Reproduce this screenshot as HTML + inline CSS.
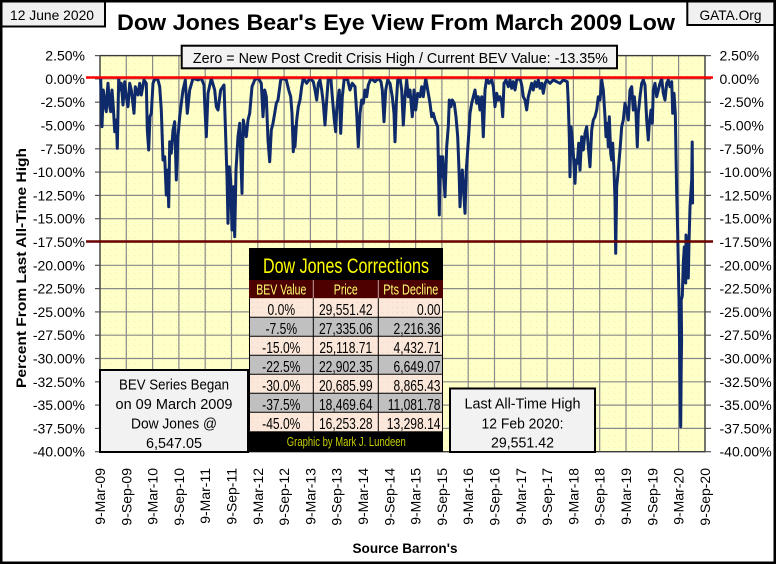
<!DOCTYPE html>
<html>
<head>
<meta charset="utf-8">
<style>
html,body{margin:0;padding:0;background:#fff;}
svg{display:block;}
.tk{font-family:"Liberation Sans",sans-serif;font-size:14px;fill:#000;}
.ls{font-family:"Liberation Sans",sans-serif;fill:#000;}
.tb{font-family:"Liberation Sans",sans-serif;font-size:15.5px;fill:#000;}
</style>
</head>
<body>
<svg width="776" height="564" viewBox="0 0 776 564" xmlns="http://www.w3.org/2000/svg">
<defs>
<pattern id="dots" width="6" height="6" patternUnits="userSpaceOnUse">
<rect width="6" height="6" fill="#FFFFC8"/>
<rect x="2" y="3" width="1" height="1" fill="#EFEFA8"/>
</pattern>
<pattern id="pdots" width="5" height="5" patternUnits="userSpaceOnUse">
<rect width="5" height="5" fill="#FCE8DA"/>
<rect x="2" y="2" width="1" height="1" fill="#F2D2C0"/>
</pattern>
</defs>
<rect x="0" y="0" width="776" height="564" fill="#fff"/>

<!-- plot area -->
<rect x="100" y="55.6" width="605" height="396.1" fill="url(#dots)"/>
<g stroke="#8A8A8A" stroke-width="1.2">
<line x1="100" y1="78.9" x2="705" y2="78.9"/>
<line x1="100" y1="102.2" x2="705" y2="102.2"/>
<line x1="100" y1="125.5" x2="705" y2="125.5"/>
<line x1="100" y1="148.8" x2="705" y2="148.8"/>
<line x1="100" y1="172.1" x2="705" y2="172.1"/>
<line x1="100" y1="195.4" x2="705" y2="195.4"/>
<line x1="100" y1="218.7" x2="705" y2="218.7"/>
<line x1="100" y1="242.0" x2="705" y2="242.0"/>
<line x1="100" y1="265.3" x2="705" y2="265.3"/>
<line x1="100" y1="288.6" x2="705" y2="288.6"/>
<line x1="100" y1="311.9" x2="705" y2="311.9"/>
<line x1="100" y1="335.2" x2="705" y2="335.2"/>
<line x1="100" y1="358.5" x2="705" y2="358.5"/>
<line x1="100" y1="381.8" x2="705" y2="381.8"/>
<line x1="100" y1="405.1" x2="705" y2="405.1"/>
<line x1="100" y1="428.4" x2="705" y2="428.4"/>
<line x1="126.3" y1="55.6" x2="126.3" y2="451.7"/>
<line x1="152.6" y1="55.6" x2="152.6" y2="451.7"/>
<line x1="178.9" y1="55.6" x2="178.9" y2="451.7"/>
<line x1="205.2" y1="55.6" x2="205.2" y2="451.7"/>
<line x1="231.5" y1="55.6" x2="231.5" y2="451.7"/>
<line x1="257.8" y1="55.6" x2="257.8" y2="451.7"/>
<line x1="284.1" y1="55.6" x2="284.1" y2="451.7"/>
<line x1="310.4" y1="55.6" x2="310.4" y2="451.7"/>
<line x1="336.7" y1="55.6" x2="336.7" y2="451.7"/>
<line x1="363.0" y1="55.6" x2="363.0" y2="451.7"/>
<line x1="389.3" y1="55.6" x2="389.3" y2="451.7"/>
<line x1="415.6" y1="55.6" x2="415.6" y2="451.7"/>
<line x1="441.9" y1="55.6" x2="441.9" y2="451.7"/>
<line x1="468.2" y1="55.6" x2="468.2" y2="451.7"/>
<line x1="494.5" y1="55.6" x2="494.5" y2="451.7"/>
<line x1="520.8" y1="55.6" x2="520.8" y2="451.7"/>
<line x1="547.1" y1="55.6" x2="547.1" y2="451.7"/>
<line x1="573.4" y1="55.6" x2="573.4" y2="451.7"/>
<line x1="599.7" y1="55.6" x2="599.7" y2="451.7"/>
<line x1="626.0" y1="55.6" x2="626.0" y2="451.7"/>
<line x1="652.3" y1="55.6" x2="652.3" y2="451.7"/>
<line x1="678.6" y1="55.6" x2="678.6" y2="451.7"/>
</g>
<rect x="100" y="55.6" width="605" height="396.1" fill="none" stroke="#3A3A3A" stroke-width="1.4"/>

<!-- ticks -->
<g stroke="#555" stroke-width="1.2">
<line x1="95" y1="55.6" x2="100" y2="55.6"/><line x1="705" y1="55.6" x2="711" y2="55.6"/>
<line x1="95" y1="78.9" x2="100" y2="78.9"/><line x1="705" y1="78.9" x2="711" y2="78.9"/>
<line x1="95" y1="102.2" x2="100" y2="102.2"/><line x1="705" y1="102.2" x2="711" y2="102.2"/>
<line x1="95" y1="125.5" x2="100" y2="125.5"/><line x1="705" y1="125.5" x2="711" y2="125.5"/>
<line x1="95" y1="148.8" x2="100" y2="148.8"/><line x1="705" y1="148.8" x2="711" y2="148.8"/>
<line x1="95" y1="172.1" x2="100" y2="172.1"/><line x1="705" y1="172.1" x2="711" y2="172.1"/>
<line x1="95" y1="195.4" x2="100" y2="195.4"/><line x1="705" y1="195.4" x2="711" y2="195.4"/>
<line x1="95" y1="218.7" x2="100" y2="218.7"/><line x1="705" y1="218.7" x2="711" y2="218.7"/>
<line x1="95" y1="242.0" x2="100" y2="242.0"/><line x1="705" y1="242.0" x2="711" y2="242.0"/>
<line x1="95" y1="265.3" x2="100" y2="265.3"/><line x1="705" y1="265.3" x2="711" y2="265.3"/>
<line x1="95" y1="288.6" x2="100" y2="288.6"/><line x1="705" y1="288.6" x2="711" y2="288.6"/>
<line x1="95" y1="311.9" x2="100" y2="311.9"/><line x1="705" y1="311.9" x2="711" y2="311.9"/>
<line x1="95" y1="335.2" x2="100" y2="335.2"/><line x1="705" y1="335.2" x2="711" y2="335.2"/>
<line x1="95" y1="358.5" x2="100" y2="358.5"/><line x1="705" y1="358.5" x2="711" y2="358.5"/>
<line x1="95" y1="381.8" x2="100" y2="381.8"/><line x1="705" y1="381.8" x2="711" y2="381.8"/>
<line x1="95" y1="405.1" x2="100" y2="405.1"/><line x1="705" y1="405.1" x2="711" y2="405.1"/>
<line x1="95" y1="428.4" x2="100" y2="428.4"/><line x1="705" y1="428.4" x2="711" y2="428.4"/>
<line x1="95" y1="451.7" x2="100" y2="451.7"/><line x1="705" y1="451.7" x2="711" y2="451.7"/>
</g>

<!-- series -->
<polyline fill="none" stroke="#0E2A6A" stroke-width="3" stroke-linejoin="round" stroke-linecap="round" points="
100.7,78.3 102,126.7 103.3,90 104.7,103.3 106.3,111.7 107,95 108,83.3 109.7,106.7 110.7,111.7 112,90 113.3,106.7 114.7,131.7 116.3,120 117.3,148.3 118.7,78.3 120,90 121.3,83.3 123,105 124.7,81.7 126,95 128,106.7 129.7,83.3 131.3,90 132.5,100 134,113.3 135.3,86.7 138,95 139.7,83.3 141.3,95 144,80 146.3,83.3 147.3,130 148.7,150 150,116.7 151.3,113.3 153,83.3 155.3,78.3 158,80 159.7,86.7 161.3,110 163,160 164.7,156.7 166.3,195 167.7,170 168.7,206.7 169.7,141.7 171.3,153.3 173,130 174.7,121.7 176.3,180 178,136.7 179.7,116.7 181.3,103.3 183,90 185.3,80 187.3,113.3 189.7,90 193,78.3 198,80 201.3,78.3 204,85 204.7,103.3 206.3,136.7 208,93.3 211.3,78.3 214.7,90 216.3,106.7 218,110 220.7,90 224,85 225.7,136.7 227,176.7 228,223.3 229.3,166.7 230.7,180 232,230 233.3,186.7 234.7,236.7 236,170 238,136.7 239.7,123.3 242,193.3 243.3,120 246.3,136.7 248,120 249.7,113.3 252,86.7 254.7,80 258,77.8 261.3,83.3 263,116.7 264.7,90 266.3,96.7 268,140 269.7,161.7 271.3,130 273,123.3 274.7,113.3 276.3,103.3 278,100 280.7,80 283,78.3 286.3,80 288.7,90 290.7,96.7 292,113.3 293.3,151.7 294.7,126.7 295,146.7 296.7,120
298.3,106.7 300,100 301.7,86.7 303.3,78.3 306.7,83.3 310,78.3 313.3,81.7 315,90 316.7,100 318.3,83.3 320,80 321.7,90 323.3,103.3 325,125 326.7,100 328.3,78.3 331,80 332.3,96.7 334.3,120 335.7,131.7 336.7,110 337.7,100 339.3,90 340.7,133.3 342.3,96.7 344.3,78.3 347.7,80 350,90 352.3,83.3 355,86.7 356.7,113.3 358.3,146.7 360,113.3 361.7,100 363.3,103.3 365,90 366.7,96.7 368.3,85 371,78.3 375,81.7 378.3,78.3 381,81.7 382.3,90 384,121.7 385.7,90 387.7,80 390,83.3 392.3,96.7 394,113.3 395,141.7 396.3,103.3 397.7,80 400,78.3 401.7,90 403.3,125 405,96.7 406.7,80 408.3,96.7 410,90 412.3,116.7 414,90 415.7,110 417.7,93.3 420,96.7 421.7,86.7 423.3,96.7 425.7,78.3 427.7,90 430,103.3 431.7,116.7 433.3,113.3 435,120 437.7,126.7 439.3,215 440.3,156.7 441.7,176.7 442.7,156.7 444,180 445,196.7 446.7,146.7 448.3,126.7 449.3,100 451,106.7 452.3,100 454.3,103.3 456,116.7 457.7,136.7 459,170 460,206.7 461,186.7 462.3,170 464,196.7 465,213.3 466.3,170 467.7,150 469,130 470,113.3 471.7,103.3 473.3,96.7 475,90 476.7,103.3 478.3,96.7 480,110 481.7,96.7 483.3,136.7 485,90 486.7,78.3 489,83.3 491.7,80
493.3,86.7 495,106.7 496.7,93.3 498.3,100 500,96.7 501.7,103.3 502.7,116.7 504,83.3 506,80 508.3,86.7 510,80 511.7,88.3 513.3,81.7 515,90 516.7,80 520,78.3 521.7,85 523.3,96.7 525,100 526.7,110 528.3,96.7 530,90 531.7,83.3 533.3,90 535,81.7 536.7,86.7 538.3,80 540,88.3 541.7,83.3 543.3,93.3 545,83.3 546.7,80 550,83.3 553.3,80 556.7,81.7 560,83.3 563.3,80 567.3,81.7 568.3,103.3 569.3,136.7 570,176.7 571,126.7 572.3,140 573.3,153.3 575,183.3 576,160 577.3,163.3 578.7,143.3 580,170 581.7,136.7 583.3,150 585,133.3 586.7,126.7 588.3,146.7 590,166.7 591.7,130 593.3,120 595,116.7 596.7,110 598.3,96.7 600,100 601.7,80 603.3,90 605,116.7 606,136.7 607.3,123.3 608.3,146.7 609.3,116.7 610.7,153.3 611.7,160 612.7,143.3 614,170 615,200 615.7,253.3 616.7,186.7 618.3,170 620,150 621.7,126.7 623.3,120 625,103.3 626.7,110 628.3,120 630,90 631.7,86.7 633.3,110 634.3,96.7 636,113.3 637.3,146.7 638.3,113.3 640,96.7 641.7,83.3 643.3,80 645,85 646.7,120 648.3,140 649.3,123.3 651,110 652.3,123.3 653.3,90 655,83.3 656.7,96.7 658.3,90 660,83.3 661.7,78.3 663.3,93.3 665,100 666.7,83.3 668.3,80 670,86.7 671.7,81.7 672.7,113.3 674,93.3 675.3,113.3 676.7,193.3 677.7,233.3 679,300 680,380 680.7,426.7 681.3,360 681.6,340 681.2,300 682.3,296 683.3,263 684.3,247 685.7,283 686,235 687.3,257 688.3,278 689,243 690,207 691.7,180 692.2,142 692.6,203"/>

<!-- reference lines -->
<line x1="86" y1="77.5" x2="713" y2="77.5" stroke="#FF0000" stroke-width="2.5"/>
<line x1="86" y1="241.5" x2="713" y2="241.5" stroke="#6A0000" stroke-width="2.6"/>

<!-- left y labels -->
<g class="tk" text-anchor="end">
<text x="85" y="60.6">2.50%</text>
<text x="85" y="83.9">0.00%</text>
<text x="85" y="107.2">-2.50%</text>
<text x="85" y="130.5">-5.00%</text>
<text x="85" y="153.8">-7.50%</text>
<text x="85" y="177.1">-10.00%</text>
<text x="85" y="200.4">-12.50%</text>
<text x="85" y="223.7">-15.00%</text>
<text x="85" y="247.0">-17.50%</text>
<text x="85" y="270.3">-20.00%</text>
<text x="85" y="293.6">-22.50%</text>
<text x="85" y="316.9">-25.00%</text>
<text x="85" y="340.2">-27.50%</text>
<text x="85" y="363.5">-30.00%</text>
<text x="85" y="386.8">-32.50%</text>
<text x="85" y="410.1">-35.00%</text>
<text x="85" y="433.4">-37.50%</text>
<text x="85" y="456.7">-40.00%</text>
</g>
<!-- right y labels -->
<g class="tk" text-anchor="start">
<text x="719.5" y="60.6">2.50%</text>
<text x="719.5" y="83.9">0.00%</text>
<text x="719.5" y="107.2">-2.50%</text>
<text x="719.5" y="130.5">-5.00%</text>
<text x="719.5" y="153.8">-7.50%</text>
<text x="719.5" y="177.1">-10.00%</text>
<text x="719.5" y="200.4">-12.50%</text>
<text x="719.5" y="223.7">-15.00%</text>
<text x="719.5" y="247.0">-17.50%</text>
<text x="719.5" y="270.3">-20.00%</text>
<text x="719.5" y="293.6">-22.50%</text>
<text x="719.5" y="316.9">-25.00%</text>
<text x="719.5" y="340.2">-27.50%</text>
<text x="719.5" y="363.5">-30.00%</text>
<text x="719.5" y="386.8">-32.50%</text>
<text x="719.5" y="410.1">-35.00%</text>
<text x="719.5" y="433.4">-37.50%</text>
<text x="719.5" y="456.7">-40.00%</text>
</g>

<!-- x labels -->
<g class="tk" text-anchor="end" dominant-baseline="central">
<text transform="translate(100,468) rotate(-90)">9-Mar-09</text>
<text transform="translate(126.3,468) rotate(-90)">9-Sep-09</text>
<text transform="translate(152.6,468) rotate(-90)">9-Mar-10</text>
<text transform="translate(178.9,468) rotate(-90)">9-Sep-10</text>
<text transform="translate(205.2,468) rotate(-90)">9-Mar-11</text>
<text transform="translate(231.5,468) rotate(-90)">9-Sep-11</text>
<text transform="translate(257.8,468) rotate(-90)">9-Mar-12</text>
<text transform="translate(284.1,468) rotate(-90)">9-Sep-12</text>
<text transform="translate(310.4,468) rotate(-90)">9-Mar-13</text>
<text transform="translate(336.7,468) rotate(-90)">9-Sep-13</text>
<text transform="translate(363.0,468) rotate(-90)">9-Mar-14</text>
<text transform="translate(389.3,468) rotate(-90)">9-Sep-14</text>
<text transform="translate(415.6,468) rotate(-90)">9-Mar-15</text>
<text transform="translate(441.9,468) rotate(-90)">9-Sep-15</text>
<text transform="translate(468.2,468) rotate(-90)">9-Mar-16</text>
<text transform="translate(494.5,468) rotate(-90)">9-Sep-16</text>
<text transform="translate(520.8,468) rotate(-90)">9-Mar-17</text>
<text transform="translate(547.1,468) rotate(-90)">9-Sep-17</text>
<text transform="translate(573.4,468) rotate(-90)">9-Mar-18</text>
<text transform="translate(599.7,468) rotate(-90)">9-Sep-18</text>
<text transform="translate(626.0,468) rotate(-90)">9-Mar-19</text>
<text transform="translate(652.3,468) rotate(-90)">9-Sep-19</text>
<text transform="translate(678.6,468) rotate(-90)">9-Mar-20</text>
<text transform="translate(705,468) rotate(-90)">9-Sep-20</text>
</g>

<!-- axis titles -->
<text class="ls" transform="translate(21,268) rotate(-90)" text-anchor="middle" dominant-baseline="central" font-size="14" font-weight="bold" textLength="240" lengthAdjust="spacingAndGlyphs">Percent From Last All-Time High</text>
<text class="ls" x="405" y="553" text-anchor="middle" font-size="14" font-weight="bold" textLength="105" lengthAdjust="spacingAndGlyphs">Source Barron's</text>

<!-- title -->
<text class="ls" x="396" y="30" text-anchor="middle" font-size="22.5" font-weight="bold" textLength="558" lengthAdjust="spacingAndGlyphs">Dow Jones Bear's Eye View From March 2009 Low</text>

<!-- zero box -->
<rect x="181.7" y="45.7" width="435.3" height="22.6" fill="#F2F2F2" stroke="#000" stroke-width="2"/>
<text class="ls" x="400.4" y="62.8" text-anchor="middle" font-size="15" textLength="415" lengthAdjust="spacingAndGlyphs">Zero = New Post Credit Crisis High / Current BEV Value:  -13.35%</text>

<!-- table -->
<rect x="249" y="248" width="194" height="32" fill="#000"/>
<text x="346" y="273" text-anchor="middle" font-family="Liberation Sans, sans-serif" font-size="21" fill="#FFFF00" textLength="166" lengthAdjust="spacingAndGlyphs">Dow Jones Corrections</text>
<rect x="249" y="280" width="194" height="18.3" fill="#4E0000"/>
<line x1="313.3" y1="280" x2="313.3" y2="298.3" stroke="#C8A0A0" stroke-width="1"/>
<line x1="378.3" y1="280" x2="378.3" y2="298.3" stroke="#C8A0A0" stroke-width="1"/>
<g font-family="Liberation Sans, sans-serif" font-size="15" fill="#FFFF70">
<text x="281.3" y="294.5" text-anchor="middle" textLength="50" lengthAdjust="spacingAndGlyphs">BEV Value</text>
<text x="345.8" y="294.5" text-anchor="middle" textLength="24" lengthAdjust="spacingAndGlyphs">Price</text>
<text x="410.8" y="294.5" text-anchor="middle" textLength="55" lengthAdjust="spacingAndGlyphs">Pts Decline</text>
</g>
<rect x="249" y="298.3" width="194" height="19" fill="url(#pdots)"/>
<rect x="249" y="317.3" width="194" height="19" fill="#C0C0C0"/>
<rect x="249" y="336.3" width="194" height="19" fill="url(#pdots)"/>
<rect x="249" y="355.3" width="194" height="19" fill="#C0C0C0"/>
<rect x="249" y="374.3" width="194" height="19" fill="url(#pdots)"/>
<rect x="249" y="393.3" width="194" height="19" fill="#C0C0C0"/>
<rect x="249" y="412.3" width="194" height="19" fill="url(#pdots)"/>
<g stroke="#000" stroke-width="1">
<line x1="249" y1="317.3" x2="443" y2="317.3"/>
<line x1="249" y1="336.3" x2="443" y2="336.3"/>
<line x1="249" y1="355.3" x2="443" y2="355.3"/>
<line x1="249" y1="374.3" x2="443" y2="374.3"/>
<line x1="249" y1="393.3" x2="443" y2="393.3"/>
<line x1="249" y1="412.3" x2="443" y2="412.3"/>
<line x1="313.3" y1="298.3" x2="313.3" y2="431.3"/>
<line x1="378.3" y1="298.3" x2="378.3" y2="431.3"/>
<line x1="249.5" y1="298.3" x2="249.5" y2="431.3"/>
<line x1="442.5" y1="298.3" x2="442.5" y2="431.3"/>
</g>
<g class="tb">
<text transform="translate(281.3,314.8) scale(0.78,1)" text-anchor="middle">0.0%</text>
<text transform="translate(345.8,314.8) scale(0.78,1)" text-anchor="middle">29,551.42</text>
<text transform="translate(440.5,314.8) scale(0.78,1)" text-anchor="end">0.00</text>
<text transform="translate(281.3,333.8) scale(0.78,1)" text-anchor="middle">-7.5%</text>
<text transform="translate(345.8,333.8) scale(0.78,1)" text-anchor="middle">27,335.06</text>
<text transform="translate(440.5,333.8) scale(0.78,1)" text-anchor="end">2,216.36</text>
<text transform="translate(281.3,352.8) scale(0.78,1)" text-anchor="middle">-15.0%</text>
<text transform="translate(345.8,352.8) scale(0.78,1)" text-anchor="middle">25,118.71</text>
<text transform="translate(440.5,352.8) scale(0.78,1)" text-anchor="end">4,432.71</text>
<text transform="translate(281.3,371.8) scale(0.78,1)" text-anchor="middle">-22.5%</text>
<text transform="translate(345.8,371.8) scale(0.78,1)" text-anchor="middle">22,902.35</text>
<text transform="translate(440.5,371.8) scale(0.78,1)" text-anchor="end">6,649.07</text>
<text transform="translate(281.3,390.8) scale(0.78,1)" text-anchor="middle">-30.0%</text>
<text transform="translate(345.8,390.8) scale(0.78,1)" text-anchor="middle">20,685.99</text>
<text transform="translate(440.5,390.8) scale(0.78,1)" text-anchor="end">8,865.43</text>
<text transform="translate(281.3,409.8) scale(0.78,1)" text-anchor="middle">-37.5%</text>
<text transform="translate(345.8,409.8) scale(0.78,1)" text-anchor="middle">18,469.64</text>
<text transform="translate(440.5,409.8) scale(0.78,1)" text-anchor="end">11,081.78</text>
<text transform="translate(281.3,428.8) scale(0.78,1)" text-anchor="middle">-45.0%</text>
<text transform="translate(345.8,428.8) scale(0.78,1)" text-anchor="middle">16,253.28</text>
<text transform="translate(440.5,428.8) scale(0.78,1)" text-anchor="end">13,298.14</text>
</g>
<rect x="249" y="431.3" width="194" height="20.6" fill="#000"/>
<text x="346.3" y="446" text-anchor="middle" font-family="Liberation Sans, sans-serif" font-size="13" fill="#C4D000" textLength="119" lengthAdjust="spacingAndGlyphs">Graphic by Mark J. Lundeen</text>

<!-- BEV box -->
<rect x="100" y="370" width="148" height="82" fill="#F2F2F2" stroke="#000" stroke-width="2"/>
<g class="ls" font-size="14.5" text-anchor="middle">
<text x="174" y="389.5" textLength="110" lengthAdjust="spacingAndGlyphs">BEV Series Began</text>
<text x="174" y="409" textLength="117" lengthAdjust="spacingAndGlyphs">on 09 March 2009</text>
<text x="174" y="428.5" textLength="86" lengthAdjust="spacingAndGlyphs">Dow Jones @</text>
<text x="174" y="448" textLength="56" lengthAdjust="spacingAndGlyphs">6,547.05</text>
</g>

<!-- Last ATH box -->
<rect x="450" y="388.5" width="145" height="63.5" fill="#F2F2F2" stroke="#000" stroke-width="2"/>
<g class="ls" font-size="14.5" text-anchor="middle">
<text x="522.5" y="408.3" textLength="116" lengthAdjust="spacingAndGlyphs">Last All-Time High</text>
<text x="522.5" y="428.3" textLength="82" lengthAdjust="spacingAndGlyphs">12 Feb 2020:</text>
<text x="522.5" y="447.5" textLength="63" lengthAdjust="spacingAndGlyphs">29,551.42</text>
</g>

<!-- date box -->
<rect x="1.5" y="1.5" width="103.5" height="25" fill="#F0F0F0" stroke="#000" stroke-width="2"/>
<text class="ls" x="52" y="20" text-anchor="middle" font-size="14" textLength="84" lengthAdjust="spacingAndGlyphs">12 June 2020</text>

<!-- GATA box -->
<rect x="687.3" y="1.5" width="87" height="23.5" fill="#F0F0F0" stroke="#000" stroke-width="2"/>
<text class="ls" x="730.5" y="20" text-anchor="middle" font-size="14" textLength="62" lengthAdjust="spacingAndGlyphs">GATA.Org</text>

<!-- outer border -->
<rect x="1.25" y="1.25" width="773.5" height="561.5" fill="none" stroke="#000" stroke-width="2.5"/>
</svg>
</body>
</html>
